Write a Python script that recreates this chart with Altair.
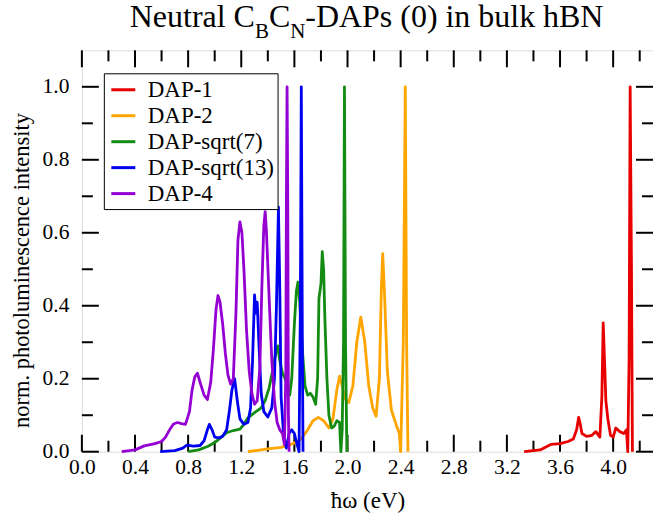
import altair as alt
import pandas as pd

series_names = ["DAP-1", "DAP-2", "DAP-sqrt(7)", "DAP-sqrt(13)", "DAP-4"]
series_colors = ["#e80000", "#ffa500", "#148c14", "#0000f0", "#9400d3"]

dap1_e = [3.33, 3.45, 3.53, 3.60, 3.66, 3.70, 3.725, 3.74, 3.75, 3.765, 3.80, 3.84, 3.87, 3.90, 3.915,
          3.925, 3.935, 3.945, 3.96, 3.98, 4.00, 4.02, 4.05, 4.08, 4.10, 4.11, 4.12, 4.128, 4.138, 4.145]
dap1_i = [0.0, 0.005, 0.02, 0.022, 0.028, 0.035, 0.06, 0.094, 0.08, 0.05, 0.042, 0.045, 0.055, 0.04, 0.15,
          0.353, 0.25, 0.14, 0.09, 0.045, 0.04, 0.065, 0.055, 0.05, 0.06, 0.0, 0.25, 1.0, 0.5, 0.0]

dap2_e = [1.25, 1.40, 1.50, 1.59, 1.65, 1.70, 1.74, 1.78, 1.82, 1.86, 1.89, 1.92, 1.94, 1.96, 1.98,
          2.01, 2.04, 2.07, 2.10, 2.13, 2.16, 2.19, 2.215, 2.24, 2.255, 2.265, 2.28, 2.30, 2.33, 2.37,
          2.39, 2.40, 2.42, 2.435, 2.445, 2.455]
dap2_i = [0.0, 0.008, 0.012, 0.022, 0.035, 0.06, 0.085, 0.094, 0.085, 0.065, 0.09, 0.17, 0.207, 0.18, 0.145,
          0.135, 0.18, 0.3, 0.369, 0.3, 0.18, 0.12, 0.097, 0.2, 0.45, 0.543, 0.42, 0.22, 0.115, 0.07,
          0.05, 0.0, 0.3, 1.0, 0.3, 0.0]

dap7_e = [0.80, 0.88, 0.95, 1.00, 1.05, 1.09, 1.14, 1.19, 1.22, 1.25, 1.30, 1.35, 1.38, 1.41, 1.44,
          1.46, 1.475, 1.49, 1.51, 1.53, 1.55, 1.565, 1.58, 1.60, 1.615, 1.627, 1.64, 1.66, 1.68, 1.70,
          1.72, 1.74, 1.76, 1.775, 1.785, 1.80, 1.81, 1.82, 1.83, 1.845, 1.86, 1.88, 1.90, 1.92, 1.94,
          1.95, 1.96, 1.97, 1.977, 1.985, 1.995]
dap7_i = [0.0, 0.005, 0.015, 0.025, 0.04, 0.052, 0.058, 0.062, 0.075, 0.093, 0.107, 0.12, 0.14, 0.175, 0.23,
          0.27, 0.29, 0.25, 0.215, 0.2, 0.17, 0.155, 0.2, 0.35, 0.44, 0.465, 0.41, 0.28, 0.18, 0.155,
          0.16, 0.15, 0.13, 0.2, 0.42, 0.46, 0.548, 0.5, 0.36, 0.2, 0.1, 0.065, 0.07, 0.085, 0.08,
          0.0, 0.06, 0.3, 1.0, 0.3, 0.0]

dap13_e = [0.59, 0.70, 0.76, 0.79, 0.84, 0.89, 0.92, 0.945, 0.96, 0.98, 1.00, 1.03, 1.06, 1.09, 1.11,
           1.13, 1.15, 1.17, 1.19, 1.22, 1.25, 1.27, 1.285, 1.30, 1.31, 1.32, 1.335, 1.35, 1.37, 1.40,
           1.43, 1.45, 1.465, 1.48, 1.49, 1.50, 1.52, 1.54, 1.56, 1.58, 1.60, 1.62, 1.635, 1.645, 1.652,
           1.66, 1.665]
dap13_i = [0.0, 0.003, 0.01, 0.018, 0.015, 0.017, 0.03, 0.06, 0.075, 0.06, 0.04, 0.038, 0.042, 0.06, 0.11,
           0.17, 0.2, 0.14, 0.09, 0.075, 0.08, 0.12, 0.25, 0.43, 0.38, 0.41, 0.28, 0.16, 0.11, 0.095,
           0.12, 0.2, 0.4, 0.67, 0.45, 0.15, 0.04, 0.01, 0.05, 0.06, 0.05, 0.02, 0.0, 0.4, 1.0,
           0.3, 0.0]

dap4_e = [0.30, 0.40, 0.47, 0.55, 0.60, 0.63, 0.66, 0.69, 0.72, 0.75, 0.78, 0.81, 0.83, 0.85, 0.87,
          0.89, 0.92, 0.945, 0.97, 0.99, 1.01, 1.025, 1.04, 1.06, 1.08, 1.10, 1.12, 1.14, 1.16, 1.175,
          1.19, 1.205, 1.22, 1.24, 1.26, 1.28, 1.30, 1.32, 1.34, 1.355, 1.37, 1.38, 1.39, 1.41, 1.43,
          1.45, 1.47, 1.49, 1.51, 1.525, 1.535, 1.54, 1.545, 1.55, 1.555, 1.56]
dap4_i = [0.0, 0.005, 0.016, 0.022, 0.028, 0.04, 0.06, 0.076, 0.08, 0.077, 0.075, 0.11, 0.17, 0.205, 0.215,
          0.19, 0.155, 0.143, 0.19, 0.28, 0.39, 0.428, 0.41, 0.35, 0.27, 0.21, 0.185, 0.2, 0.38, 0.58,
          0.63, 0.6, 0.5, 0.33, 0.22, 0.16, 0.13, 0.14, 0.23, 0.45, 0.62, 0.658, 0.6, 0.42, 0.25,
          0.14, 0.08, 0.06, 0.05, 0.02, 0.2, 0.7, 1.0, 0.7, 0.1, 0.0]

x_major = [0.0, 0.4, 0.8, 1.2, 1.6, 2.0, 2.4, 2.8, 3.2, 3.6, 4.0]
x_minor = [0.2, 0.6, 1.0, 1.4, 1.8, 2.2, 2.6, 3.0, 3.4, 3.8, 4.2]
y_major = [0.0, 0.2, 0.4, 0.6, 0.8, 1.0]
y_minor = [0.1, 0.3, 0.5, 0.7, 0.9]

rows = []
for order, (name, es, vs) in enumerate(zip(series_names,
                                           [dap1_e, dap2_e, dap7_e, dap13_e, dap4_e],
                                           [dap1_i, dap2_i, dap7_i, dap13_i, dap4_i])):
    for k, (e, v) in enumerate(zip(es, vs)):
        rows.append({"series": name, "E": e, "I": v, "k": k, "so": order})
df = pd.DataFrame(rows)

FONT = "Liberation Serif"
W, H = 572, 402
MAJ, MIN = 17, 11

xs = alt.Scale(domain=[0, 4.3], nice=False, zero=False)
ys = alt.Scale(domain=[0, 1.1], nice=False, zero=False)

xaxis = alt.Axis(title="ħω (eV)", values=x_major, format=".1f", ticks=False, tickSize=0, domain=False,
                 grid=False, labelFont=FONT, labelFontSize=21.5, labelColor="black", labelPadding=5,
                 labelFlush=False, titleFont=FONT, titleFontSize=23, titleFontWeight="normal",
                 titleColor="black", titlePadding=11)
yaxis = alt.Axis(title="norm. photoluminescence intensity", values=y_major, format=".1f", ticks=False,
                 tickSize=0, domain=False, grid=False, labelFont=FONT, labelFontSize=21.5,
                 labelColor="black", labelPadding=13, labelFlush=False, titleFont=FONT,
                 titleFontSize=22.5, titleFontWeight="normal", titleColor="black", titlePadding=9,
                 titleY=220)

X = alt.X("E:Q", scale=xs, axis=xaxis)
Y = alt.Y("I:Q", scale=ys, axis=yaxis)

lines = alt.Chart(df).mark_line(strokeWidth=2.8, strokeJoin="round").encode(
    x=X,
    y=Y,
    color=alt.Color("series:N",
                    scale=alt.Scale(domain=series_names, range=series_colors),
                    legend=alt.Legend(title=None, orient="none", legendX=22, legendY=23,
                                      strokeColor="black", fillColor="white",
                                      padding=3, symbolType="stroke", symbolSize=576,
                                      symbolStrokeWidth=3, symbolOffset=3, labelFont=FONT,
                                      labelFontSize=23, labelColor="black", labelOffset=11,
                                      rowPadding=0)),
    order=alt.Order("k:Q"),
)


def xticks(vals, y0, y1):
    return alt.Chart(pd.DataFrame({"E": vals})).mark_rule(color="black", strokeWidth=2).encode(
        x=X, y=alt.value(y0), y2=alt.value(y1))


def yticks(vals, x0, x1):
    return alt.Chart(pd.DataFrame({"I": vals})).mark_rule(color="black", strokeWidth=2).encode(
        y=Y, x=alt.value(x0), x2=alt.value(x1))


ticks = [
    xticks(x_major, H, H - MAJ), xticks(x_minor, H, H - MIN),
    xticks(x_major, 0, MAJ), xticks(x_minor, 0, MIN),
    yticks(y_major, 0, MAJ), yticks(y_minor, 0, MIN),
    yticks(y_major, W, W - MAJ), yticks(y_minor, W, W - MIN),
]

one = pd.DataFrame({"a": [0]})
title_parts = [
    ("Neutral C", 48, -23, 32),
    ("B", 173.3, -12, 21),
    ("C", 187.3, -23, 32),
    ("N", 208.6, -12, 21),
    ("-DAPs (0) in bulk hBN", 223.8, -23, 32),
]
title_layers = [
    alt.Chart(one).mark_text(text=t, font=FONT, fontSize=s, align="left", baseline="alphabetic",
                             color="black").encode(x=alt.value(px), y=alt.value(py))
    for t, px, py, s in title_parts
]

chart = alt.layer(*ticks, lines, *title_layers).properties(
    width=W, height=H,
    padding={"left": 82, "top": 50, "right": 0, "bottom": 69},
    autosize=alt.AutoSizeParams(type="none"),
).configure_view(stroke="black", strokeWidth=2).configure_legend(
    strokeWidth=2, labelFont=FONT).configure_axis(labelFont=FONT, titleFont=FONT).configure(
    background="white", font=FONT)

chart.save("out.html", embed_options={"renderer": "svg", "actions": False})
